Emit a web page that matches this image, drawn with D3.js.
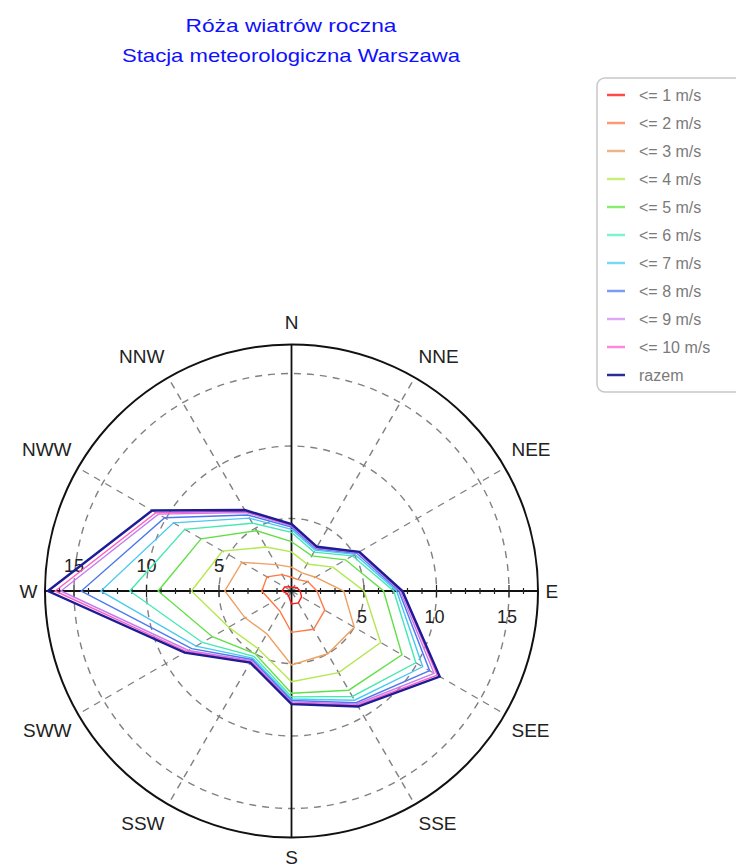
<!DOCTYPE html>
<html>
<head>
<meta charset="utf-8">
<script src="https://cdn.jsdelivr.net/npm/d3@7"></script>
<style>
  body { margin: 0; background: #fff; }
  svg { display: block; font-family: "Liberation Sans", Arial, sans-serif; }
</style>
</head>
<body>
<div id="chart"></div>
<script>
// kierunki (co 30 stopni, od N zgodnie z zegarem)
const directions = ["N", "NNE", "NEE", "E", "SEE", "SSE", "S", "SSW", "SWW", "W", "NWW", "NNW"];
const seriesNames = ["<= 1 m/s", "<= 2 m/s", "<= 3 m/s", "<= 4 m/s", "<= 5 m/s",
                     "<= 6 m/s", "<= 7 m/s", "<= 8 m/s", "<= 9 m/s", "<= 10 m/s", "razem"];

// czestosci skumulowane [%], kolejnosc jak directions
const upTo1  = [0.25, 0.30, 0.45, 0.60, 0.80, 0.95, 0.90, 0.40, 0.35, 0.65, 0.55, 0.35];
const upTo2  = [0.95, 0.90, 1.30, 1.75, 2.65, 3.05, 2.85, 1.60, 1.55, 2.05, 1.95, 1.30];
const upTo3  = [1.65, 1.45, 1.90, 3.60, 5.00, 5.00, 5.10, 3.40, 3.70, 4.60, 3.95, 2.10];
const upTo4  = [2.70, 2.15, 3.30, 5.00, 7.10, 6.50, 6.25, 4.60, 5.00, 6.90, 5.50, 3.50];
const upTo5  = [3.40, 2.80, 4.30, 6.35, 8.80, 7.90, 7.05, 5.00, 6.30, 9.20, 7.20, 4.80];
const upTo6  = [4.05, 3.10, 4.85, 7.05, 9.90, 8.40, 7.30, 5.20, 7.10, 11.15, 8.50, 5.40];
const upTo7  = [4.25, 3.25, 5.05, 7.25, 10.45, 8.70, 7.45, 5.35, 7.60, 13.15, 9.40, 5.80];
const upTo8  = [4.40, 3.35, 5.20, 7.40, 11.00, 8.90, 7.55, 5.45, 7.95, 14.50, 10.10, 6.05];
const upTo9  = [4.50, 3.42, 5.30, 7.50, 11.35, 9.00, 7.65, 5.55, 8.20, 15.90, 10.60, 6.25];
const upTo10 = [4.55, 3.47, 5.35, 7.60, 11.60, 9.10, 7.72, 5.62, 8.35, 16.30, 10.80, 6.35];
const total  = [4.62, 3.52, 5.40, 7.65, 11.80, 9.20, 7.80, 5.70, 8.50, 16.80, 11.10, 6.45];

const ringTicks = [5, 10, 15];
const rMax = 17;

const series = [upTo1, upTo2, upTo3, upTo4, upTo5, upTo6, upTo7, upTo8, upTo9, upTo10, total];
const colors = ["#ff1a1a", "#ff7a45", "#eea060", "#b4e84e", "#62e048", "#45e8b4",
                "#48c8f4", "#4a78f0", "#c47cf0", "#ff5cc4", "#1c1c96"];
const legendColors = ["#ff4a4a", "#ff9a70", "#ebb585", "#c8f078", "#88ec70", "#78f4d0",
                      "#78d8fa", "#7c9cf4", "#dca8f6", "#ff88d4", "#2c2c98"];

const W = 736, H = 867;
const cx = 291.5, cy = 591;
const r = d3.scaleLinear([0, rMax], [0, 246.5]);
const ang = d3.scaleLinear([0, directions.length], [0, 2 * Math.PI]);

const svg = d3.select("#chart").append("svg")
  .attr("width", W).attr("height", H);

// tytul
const titles = [
  {text: "Róża wiatrów roczna", y: 32, len: 211},
  {text: "Stacja meteorologiczna Warszawa", y: 62, len: 338}
];
svg.selectAll("text.title").data(titles).join("text")
  .attr("class", "title")
  .attr("x", 291).attr("y", d => d.y)
  .attr("text-anchor", "middle")
  .attr("fill", "#1010ff")
  .style("font-size", "19px")
  .attr("textLength", d => d.len)
  .attr("lengthAdjust", "spacingAndGlyphs")
  .text(d => d.text);

const g = svg.append("g").attr("transform", `translate(${cx} ${cy})`);

// siatka
g.selectAll("circle.ring").data(ringTicks).join("circle")
  .attr("class", "ring")
  .attr("r", d => r(d))
  .attr("fill", "none")
  .attr("stroke", "#808080")
  .attr("stroke-width", 1.4)
  .attr("stroke-dasharray", "7,6");

g.selectAll("line.spoke").data(d3.range(directions.length).filter(i => i % 3 !== 0)).join("line")
  .attr("class", "spoke")
  .attr("x1", 0).attr("y1", 0)
  .attr("x2", i => r(rMax) * Math.sin(ang(i)))
  .attr("y2", i => -r(rMax) * Math.cos(ang(i)))
  .attr("stroke", "#808080")
  .attr("stroke-width", 1.4)
  .attr("stroke-dasharray", "7,6");

g.append("circle")
  .attr("r", r(rMax))
  .attr("fill", "none")
  .attr("stroke", "#111")
  .attr("stroke-width", 2);

g.append("line").attr("x1", 0).attr("x2", 0).attr("y1", -r(rMax)).attr("y2", r(rMax))
  .attr("stroke", "#111").attr("stroke-width", 1.8);
g.append("line").attr("y1", 0).attr("y2", 0).attr("x1", -r(rMax)).attr("x2", r(rMax))
  .attr("stroke", "#111").attr("stroke-width", 1.8);

// znaczniki na osi W-E
const unitTicks = d3.range(1, rMax).flatMap(v => [v, -v]);
g.selectAll("line.tick").data(unitTicks).join("line")
  .attr("class", "tick")
  .attr("x1", d => Math.sign(d) * r(Math.abs(d)))
  .attr("x2", d => Math.sign(d) * r(Math.abs(d)))
  .attr("y1", d => Math.abs(d) % 5 === 0 ? -6 : -3)
  .attr("y2", d => Math.abs(d) % 5 === 0 ? 6 : 3)
  .attr("stroke", "#222").attr("stroke-width", 1.2);

g.selectAll("text.left").data(ringTicks).join("text")
  .attr("class", "left")
  .attr("x", d => -r(d)).attr("y", -19)
  .attr("text-anchor", "middle")
  .attr("fill", "#222").style("font-size", "18px")
  .text(d => d);
g.selectAll("text.right").data(ringTicks).join("text")
  .attr("class", "right")
  .attr("x", d => r(d) - 2).attr("y", 32)
  .attr("text-anchor", "middle")
  .attr("fill", "#222").style("font-size", "18px")
  .text(d => d);

// etykiety kierunkow
const labR = r(rMax) + 7.5;
g.selectAll("text.dir").data(directions).join("text")
  .attr("class", "dir")
  .attr("x", (d, i) => labR * Math.sin(ang(i)))
  .attr("y", (d, i) => {
    const c = Math.cos(ang(i));
    return c > 0.01 ? -(labR * c + 15) : c < -0.01 ? -(labR * c - 12) : 0;
  })
  .attr("dy", "0.36em")
  .attr("text-anchor", (d, i) => {
    const s = Math.sin(ang(i));
    return s > 0.01 ? "start" : s < -0.01 ? "end" : "middle";
  })
  .attr("fill", "#222").style("font-size", "19px")
  .text(d => d);

// wielokaty
const radial = d3.lineRadial()
  .angle((d, i) => ang(i))
  .radius(d => r(d))
  .curve(d3.curveLinearClosed);

g.selectAll("path.series").data(series).join("path")
  .attr("class", "series")
  .attr("d", d => radial(d))
  .attr("fill", "none")
  .attr("stroke", (d, i) => colors[i])
  .attr("stroke-width", (d, i) => i === series.length - 1 ? 2.4 : 1.4)
  .attr("stroke-linejoin", "miter");

// legenda
const legend = svg.append("g").attr("transform", "translate(597 78)");
legend.append("rect")
  .attr("x", 0).attr("y", 0).attr("width", 170).attr("height", 314)
  .attr("rx", 8).attr("fill", "#fff")
  .attr("stroke", "#c8c8c8").attr("stroke-width", 1.5);
const items = legend.selectAll("g.item").data(seriesNames).join("g")
  .attr("class", "item")
  .attr("transform", (d, i) => `translate(0 ${17 + 28 * i})`);
items.append("line")
  .attr("x1", 10).attr("x2", 28).attr("y1", 0).attr("y2", 0)
  .attr("stroke", (d, i) => legendColors[i]).attr("stroke-width", 2.5);
items.append("text")
  .attr("x", 42).attr("y", 0).attr("dy", "0.35em")
  .attr("fill", "#7a7a7a").style("font-size", "16px")
  .text(d => d);
</script>
</body>
</html>
